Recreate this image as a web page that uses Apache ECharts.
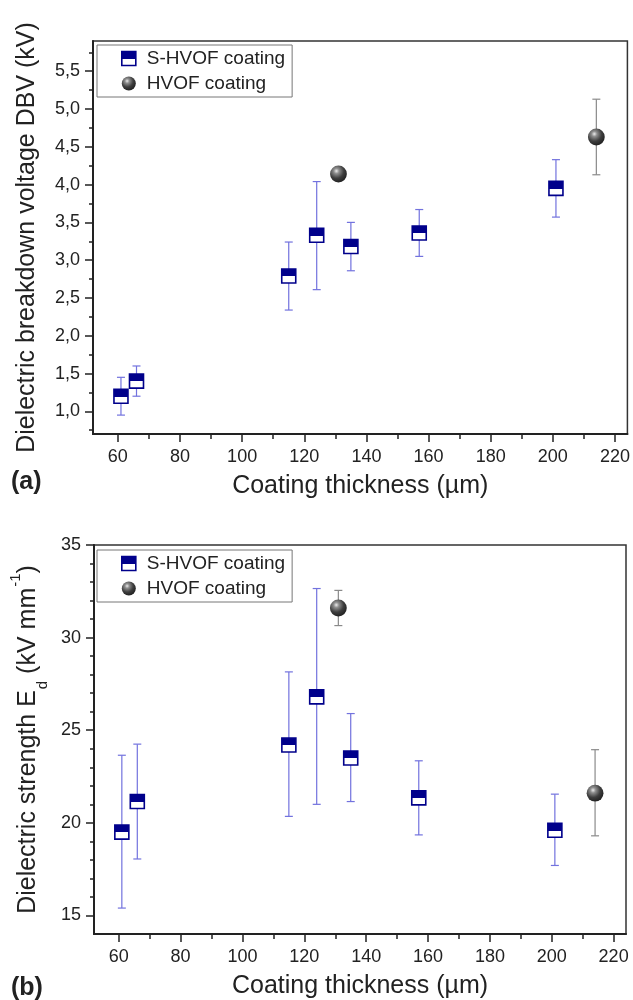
<!DOCTYPE html>
<html>
<head>
<meta charset="utf-8">
<script src="https://cdn.jsdelivr.net/npm/echarts@6/dist/echarts.min.js"></script>
<style>html,body{margin:0;padding:0;background:#fff;}#c{width:633px;height:1000px;}</style>
</head>
<body>
<div id="c"></div>
<script>
// ---- Data ----
const seriesNames = ['S-HVOF coating', 'HVOF coating'];
// Panel (a): dielectric breakdown voltage (kV)
const thicknessS = [61, 66, 115, 124, 135, 157, 201];
const dbvS      = [1.20, 1.40, 2.79, 3.33, 3.18, 3.36, 3.95];
const dbvSLow   = [0.95, 1.20, 2.34, 2.61, 2.86, 3.05, 3.57];
const dbvSHigh  = [1.45, 1.60, 3.24, 4.04, 3.50, 3.67, 4.33];
const thicknessH = [131, 214];
const dbvH      = [4.14, 4.63];
const dbvHLow   = [4.08, 4.13];
const dbvHHigh  = [4.20, 5.13];
// Panel (b): dielectric strength (kV/mm)
const edS      = [19.5, 21.15, 24.2, 26.8, 23.5, 21.35, 19.6];
const edSLow   = [15.4, 18.05, 20.35, 21.0, 21.15, 19.35, 17.7];
const edSHigh  = [23.65, 24.25, 28.15, 32.65, 25.9, 23.35, 21.55];
const edH      = [31.6, 21.6];
const edHLow   = [30.65, 19.3];
const edHHigh  = [32.55, 23.95];
// Tick values
const xTicks      = [60, 80, 100, 120, 140, 160, 180, 200, 220];
const xMinorTicks = [70, 90, 110, 130, 150, 170, 190, 210];
const yTicksA      = [1.0, 1.5, 2.0, 2.5, 3.0, 3.5, 4.0, 4.5, 5.0, 5.5];
const yMinorTicksA = [0.75, 1.25, 1.75, 2.25, 2.75, 3.25, 3.75, 4.25, 4.75, 5.25, 5.75];
const yTicksB      = [15, 20, 25, 30, 35];
const yMinorTicksB = [16, 17, 18, 19, 21, 22, 23, 24, 26, 27, 28, 29, 31, 32, 33, 34];

// ---- Styles ----
const NAVY = '#00008b';
const ERR_BLUE = '#7272de';
const ERR_GRAY = '#8a8a8a';
const AXIS = '#222';
const FONT = '"Liberation Sans", Arial, sans-serif';

function boxFill() {
  return new echarts.graphic.LinearGradient(0, 0, 0, 1, [
    {offset: 0, color: NAVY}, {offset: 0.52, color: NAVY},
    {offset: 0.52, color: '#ffffff'}, {offset: 1, color: '#ffffff'}
  ]);
}
function sphereFill() {
  return new echarts.graphic.RadialGradient(0.38, 0.32, 0.72, [
    {offset: 0, color: '#ececec'}, {offset: 0.22, color: '#8e8e8e'},
    {offset: 0.6, color: '#3e3e3e'}, {offset: 1, color: '#1e1e1e'}
  ]);
}

function zip(xs, ys, lo, hi) { return xs.map((x, i) => [x, ys[i], lo[i], hi[i]]); }

function errorGroup(api, color, cap) {
  const x = api.value(0);
  const pl = api.coord([x, api.value(2)]);
  const ph = api.coord([x, api.value(3)]);
  return [
    {type: 'line', shape: {x1: pl[0], y1: pl[1], x2: ph[0], y2: ph[1]}, style: {stroke: color, lineWidth: 1.2}},
    {type: 'line', shape: {x1: pl[0] - cap, y1: pl[1], x2: pl[0] + cap, y2: pl[1]}, style: {stroke: color, lineWidth: 1.2}},
    {type: 'line', shape: {x1: ph[0] - cap, y1: ph[1], x2: ph[0] + cap, y2: ph[1]}, style: {stroke: color, lineWidth: 1.2}}
  ];
}
function renderS(params, api) {
  const p = api.coord([api.value(0), api.value(1)]);
  const children = errorGroup(api, ERR_BLUE, 4);
  children.push({type: 'rect', shape: {x: p[0] - 7, y: p[1] - 7, width: 14, height: 14},
    style: {fill: boxFill(), stroke: NAVY, lineWidth: 1.6}});
  return {type: 'group', children};
}
function renderH(params, api) {
  const p = api.coord([api.value(0), api.value(1)]);
  const children = errorGroup(api, ERR_GRAY, 4);
  children.push({type: 'circle', shape: {cx: p[0], cy: p[1], r: 8.4}, style: {fill: sphereFill()}});
  return {type: 'group', children};
}

function mainX(gi) {
  return {
    gridIndex: gi, type: 'value', min: 52, max: 224, position: 'bottom',
    name: 'Coating thickness (µm)', nameLocation: 'middle', nameGap: 40,
    nameTextStyle: {fontSize: 25, color: AXIS, fontFamily: FONT},
    axisLine: {show: true, lineStyle: {color: AXIS, width: 2}},
    axisTick: {show: true, length: 8, lineStyle: {color: AXIS, width: 1.5}, customValues: xTicks},
    axisLabel: {customValues: xTicks, fontSize: 18, color: AXIS, margin: 14, fontFamily: FONT},
    splitLine: {show: false}
  };
}
function minorX(gi) {
  return {
    gridIndex: gi, type: 'value', min: 52, max: 224, position: 'bottom',
    axisLine: {show: false},
    axisTick: {show: true, length: 5, lineStyle: {color: AXIS, width: 1.5}, customValues: xMinorTicks},
    axisLabel: {show: false}, splitLine: {show: false}
  };
}
function minorY(gi, min, max, vals) {
  return {
    gridIndex: gi, type: 'value', min, max, position: 'left',
    axisLine: {show: false},
    axisTick: {show: true, length: 4, lineStyle: {color: AXIS, width: 1.5}, customValues: vals},
    axisLabel: {show: false}, splitLine: {show: false}
  };
}

function legendCfg(top) {
  return {
    left: 97, top, orient: 'vertical',
    borderColor: '#777', borderWidth: 1, borderRadius: 0,
    padding: [4, 7, 4, 24], itemGap: 6, itemWidth: 14, itemHeight: 14,
    textStyle: {fontSize: 19, color: AXIS, fontFamily: FONT, padding: [0, 0, 0, 6]},
    selectedMode: false,
    data: [
      {name: seriesNames[0], icon: 'rect', itemStyle: {color: boxFill(), borderColor: NAVY, borderWidth: 1.6}},
      {name: seriesNames[1], icon: 'circle', itemStyle: {color: sphereFill(), borderWidth: 0}}
    ]
  };
}

const option = {
  animation: false,
  textStyle: {fontFamily: FONT},
  title: [
    {text: '(a)', left: 11, top: 470, padding: 0, textStyle: {fontSize: 25, fontWeight: 'bold', color: AXIS, fontFamily: FONT}},
    {text: '(b)', left: 11, top: 976, padding: 0, textStyle: {fontSize: 25, fontWeight: 'bold', color: AXIS, fontFamily: FONT}}
  ],
  legend: [legendCfg(45), legendCfg(550)],
  grid: [
    {left: 93, top: 41, width: 536, height: 393, show: true, borderColor: '#333', borderWidth: 1.5, backgroundColor: 'transparent'},
    {left: 93, top: 545, width: 533, height: 392, show: true, borderColor: '#333', borderWidth: 1.5, backgroundColor: 'transparent'}
  ],
  xAxis: [mainX(0), minorX(0), mainX(1), minorX(1)],
  yAxis: [
    {
      gridIndex: 0, type: 'value', min: 0.7, max: 5.9, position: 'left',
      name: 'Dielectric breakdown voltage DBV (kV)', nameLocation: 'middle', nameGap: 53,
      nameTextStyle: {fontSize: 25, color: AXIS, fontFamily: FONT},
      axisLine: {show: true, lineStyle: {color: AXIS, width: 2}},
      axisTick: {show: true, length: 8, lineStyle: {color: AXIS, width: 1.5}, customValues: yTicksA},
      axisLabel: {customValues: yTicksA, fontSize: 18, color: AXIS, margin: 13, fontFamily: FONT,
        formatter: v => v.toFixed(1).replace('.', ',')},
      splitLine: {show: false}
    },
    minorY(0, 0.7, 5.9, yMinorTicksA),
    {
      gridIndex: 1, type: 'value', min: 14, max: 35, position: 'left',
      name: '{n|Dielectric strength E}{sub|d}{n| (kV mm}{sup|-1}{n|)}', nameLocation: 'middle', nameGap: 50,
      nameTextStyle: {fontSize: 25, color: AXIS, fontFamily: FONT,
        rich: {
          n: {fontSize: 25, color: AXIS, fontFamily: FONT, lineHeight: 32},
          sub: {fontSize: 15, color: AXIS, fontFamily: FONT, verticalAlign: 'bottom', lineHeight: 32, padding: [0, 0, -6, 1]},
          sup: {fontSize: 15, color: AXIS, fontFamily: FONT, verticalAlign: 'top', lineHeight: 32, padding: [-4, 0, 0, 1]}
        }},
      axisLine: {show: true, lineStyle: {color: AXIS, width: 2}},
      axisTick: {show: true, length: 8, lineStyle: {color: AXIS, width: 1.5}, customValues: yTicksB},
      axisLabel: {customValues: yTicksB, fontSize: 18, color: AXIS, margin: 13, fontFamily: FONT},
      splitLine: {show: false}
    },
    minorY(1, 14, 35, yMinorTicksB)
  ],
  series: [
    {name: seriesNames[0], type: 'custom', xAxisIndex: 0, yAxisIndex: 0, renderItem: renderS,
     itemStyle: {color: NAVY}, encode: {x: 0, y: [1, 2, 3]}, data: zip(thicknessS, dbvS, dbvSLow, dbvSHigh), z: 3},
    {name: seriesNames[1], type: 'custom', xAxisIndex: 0, yAxisIndex: 0, renderItem: renderH,
     itemStyle: {color: '#444'}, encode: {x: 0, y: [1, 2, 3]}, data: zip(thicknessH, dbvH, dbvHLow, dbvHHigh), z: 3},
    {name: seriesNames[0], type: 'custom', xAxisIndex: 2, yAxisIndex: 2, renderItem: renderS,
     itemStyle: {color: NAVY}, encode: {x: 0, y: [1, 2, 3]}, data: zip(thicknessS, edS, edSLow, edSHigh), z: 3},
    {name: seriesNames[1], type: 'custom', xAxisIndex: 2, yAxisIndex: 2, renderItem: renderH,
     itemStyle: {color: '#444'}, encode: {x: 0, y: [1, 2, 3]}, data: zip(thicknessH, edH, edHLow, edHHigh), z: 3}
  ]
};

const chart = echarts.init(document.getElementById('c'), null, {renderer: 'canvas'});
chart.setOption(option);
</script>
</body>
</html>
